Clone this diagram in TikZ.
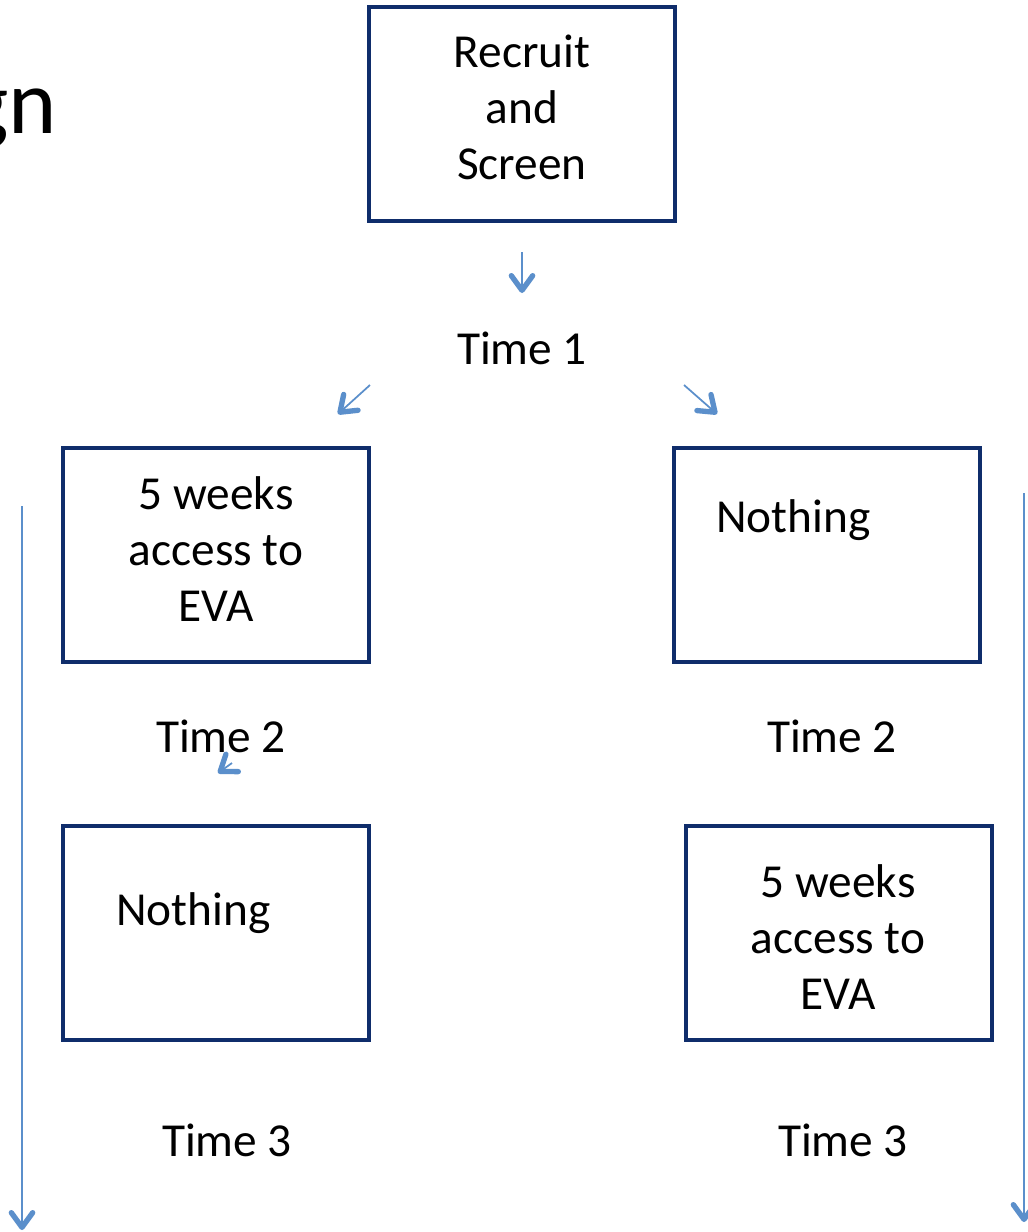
\documentclass[tikz,border=0pt]{standalone}
\usepackage{fontspec}
\setmainfont{Carlito}
\usetikzlibrary{arrows.meta}
\definecolor{boxline}{HTML}{0F2D6B}
\definecolor{flow}{HTML}{5B8FCB}
\tikzset{
  stagebox/.style={draw=boxline, line width=3pt, minimum width=229.5pt, minimum height=160.5pt, inner sep=0pt},
  label/.style={font=\fontsize{35.5}{42}\selectfont, align=center, inner sep=0pt},
  flowarrow/.style={draw=flow, line width=1.5pt, -{Straight Barb[length=11pt, width=16pt, line width=4pt, round]}},
  thinarrow/.style={draw=flow, line width=1.3pt, -{Straight Barb[length=11pt, width=16pt, line width=4pt, round]}}
}
\begin{document}
\begin{tikzpicture}[x=0.75pt, y=-0.75pt]
\useasboundingbox (0,0) rectangle (1028,1232);
\clip (0,0) rectangle (1028,1232);
\fill[white] (0,0) rectangle (1028,1232);

% heading, running off the left edge
\node[anchor=base east, font=\fontsize{69}{80}\selectfont, inner sep=0pt] (heading) at (57,133) {Design};

% stage boxes
\node[stagebox] (recruit) at (521.5,113.5) {};
\node[label] (recruittxt) at (522,107) {Recruit\\and\\Screen};

\node[stagebox] (evaA) at (216,555) {};
\node[label] (evaAtxt) at (216,549) {5 weeks\\access to\\EVA};

\node[stagebox] (nothingA) at (827,555) {};
\node[label, anchor=west] (nothingAtxt) at (716,520) {Nothing};

\node[stagebox] (nothingB) at (216,933) {};
\node[label, anchor=west] (nothingBtxt) at (116,913) {Nothing};

\node[stagebox] (evaB) at (838.5,933) {};
\node[label] (evaBtxt) at (838,937) {5 weeks\\access to\\EVA};

% time points
\node[label] (t1) at (522,348) {Time 1};
\node[label] (t2a) at (221,736) {Time 2};
\node[label] (t2b) at (832,736) {Time 2};
\node[label] (t3a) at (227,1140) {Time 3};
\node[label] (t3b) at (843,1140) {Time 3};

% flow arrows
\coordinate (a1s) at (522,252);
\coordinate (a1e) at (522,293);
\draw[thinarrow] (a1s) -- (a1e);

\coordinate (a2s) at (370,385);
\coordinate (a2e) at (338,414);
\draw[thinarrow] (a2s) -- (a2e);

\coordinate (a3s) at (684,385);
\coordinate (a3e) at (717,414);
\draw[thinarrow] (a3s) -- (a3e);

\coordinate (a4s) at (232,763);
\coordinate (a4e) at (218,773);
\draw[thinarrow] (a4s) -- (a4e);

% time lines down each side
\coordinate (lts) at (22,506);
\coordinate (lte) at (22,1230);
\draw[flowarrow] (lts) -- (lte);

\coordinate (rts) at (1024,493);
\coordinate (rte) at (1024,1222);
\draw[flowarrow] (rts) -- (rte);
\end{tikzpicture}
\end{document}
